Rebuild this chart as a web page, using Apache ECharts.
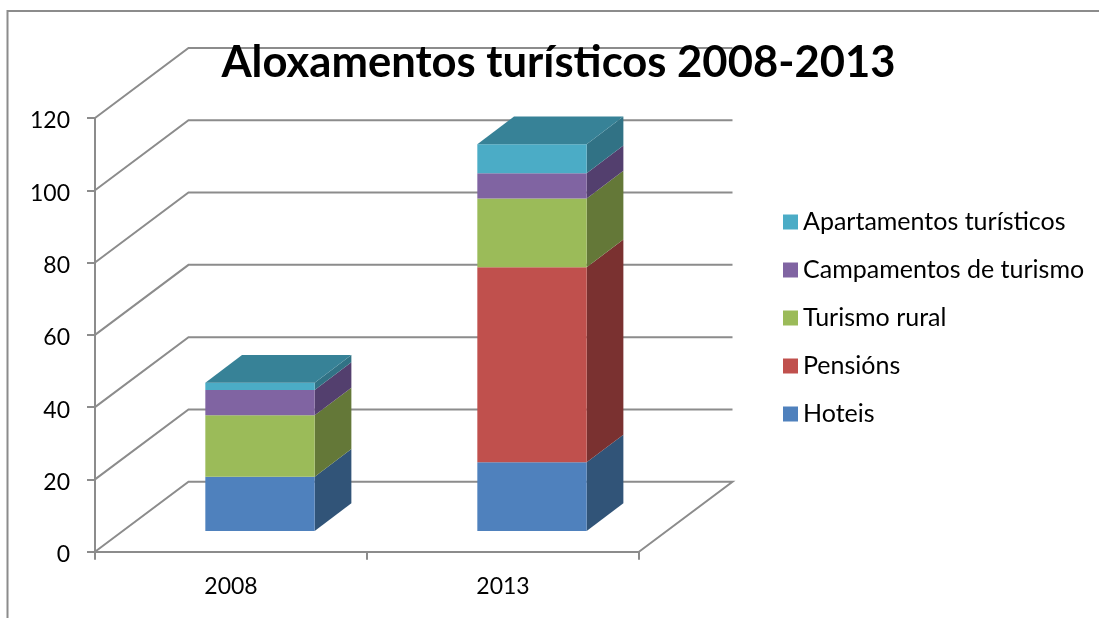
<!DOCTYPE html>
<html>
<head>
<meta charset="utf-8">
<style>html,body{margin:0;padding:0;background:#fff}#c{width:1099px;height:618px}</style>
<script src="https://cdn.jsdelivr.net/npm/echarts@6/dist/echarts.min.js"></script>
</head>
<body>
<div id="c"></div>
<script>
const titleText = 'Aloxamentos turísticos 2008-2013';
const categories = ['2008', '2013'];
const yTicks = [0, 20, 40, 60, 80, 100, 120];
const hoteis = [15, 19];
const pensions = [0, 54];
const rural = [17, 19];
const campamentos = [7, 7];
const apartamentos = [2, 8];
const seriesNames = ['Hoteis', 'Pensións', 'Turismo rural', 'Campamentos de turismo', 'Apartamentos turísticos'];
const seriesValues = [hoteis, pensions, rural, campamentos, apartamentos];
const frontColors = ['#4F81BD', '#C0504D', '#9BBB59', '#8064A2', '#4BACC6'];
const sideColors = ['#315478', '#7A3130', '#647838', '#533F6E', '#317285'];
const topColor = '#378297';
const gridColor = '#8C8C8C';
const FONT = 'Lato';

const WALL = { dx: 93.5, dy: -70 };
const BAR_OFFSET = { dx: 29, dy: -20.7 };
const BAR_DEPTH = { dx: 36.7, dy: -27.7 };
const BAR_RATIO = 0.402;

const chart = echarts.init(document.getElementById('c'), null, { renderer: 'canvas' });

function wallItem(params, api) {
  const v = api.value(0);
  const y = api.coord([0, v])[1];
  const cs = params.coordSys;
  const l = cs.x, r = cs.x + cs.width;
  const pts = [[l, y], [l + WALL.dx, y + WALL.dy], [r + WALL.dx, y + WALL.dy]];
  if (v === 0) pts.push([r, y]);
  return { type: 'polyline', shape: { points: pts }, style: { fill: null, stroke: gridColor, lineWidth: 2 }, silent: true };
}

function barItem(idx) {
  return function (params, api) {
    const cat = api.value(0);
    const base = api.value(1), top = api.value(2);
    const c0 = api.coord([cat, base]), c1 = api.coord([cat, top]);
    const w = api.size([1, 0])[0] * BAR_RATIO;
    const xl = c0[0] - w / 2 + BAR_OFFSET.dx, xr = xl + w;
    const yb = c0[1] + BAR_OFFSET.dy, yt = c1[1] + BAR_OFFSET.dy;
    const d = BAR_DEPTH;
    const children = [];
    if (top > base) {
      children.push({ type: 'polygon', shape: { points: [[xr, yb], [xr + d.dx, yb + d.dy], [xr + d.dx, yt + d.dy], [xr, yt]] }, style: { fill: sideColors[idx] } });
      children.push({ type: 'rect', shape: { x: xl, y: yt, width: w, height: yb - yt }, style: { fill: frontColors[idx] } });
    }
    if (idx === seriesValues.length - 1) {
      children.push({ type: 'polygon', shape: { points: [[xl, yt], [xl + d.dx, yt + d.dy], [xr + d.dx, yt + d.dy], [xr, yt]] }, style: { fill: topColor } });
    }
    return { type: 'group', children };
  };
}

const running = categories.map(() => 0);
const barSeries = seriesNames.map((name, i) => {
  const data = categories.map((_, c) => {
    const base = running[c];
    running[c] += seriesValues[i][c];
    return [c, base, running[c]];
  });
  return {
    name, type: 'custom', coordinateSystem: 'cartesian2d', clip: false, z: 3 + i,
    itemStyle: { color: frontColors[i] },
    encode: { x: 0, y: 2 },
    renderItem: barItem(i), data
  };
});

chart.setOption({
  animation: false,
  title: {
    text: titleText, left: 553.5, textAlign: 'center', top: 36,
    textStyle: { fontFamily: FONT, fontSize: 43.6, fontWeight: 'bold', color: '#000' }
  },
  grid: { left: 95, top: 118, width: 544, height: 433.7 },
  legend: {
    data: seriesNames.slice().reverse(), orient: 'vertical', left: 783, top: 208, padding: 0, selectedMode: false,
    icon: 'rect', itemWidth: 15, itemHeight: 15, itemGap: 20,
    textStyle: { fontFamily: FONT, fontSize: 25, lineHeight: 28, color: '#000' }
  },
  xAxis: {
    type: 'category', data: categories,
    axisLine: { lineStyle: { color: gridColor, width: 2 } },
    axisTick: { show: true, length: 8, alignWithLabel: false, lineStyle: { color: gridColor, width: 2 } },
    axisLabel: { fontFamily: FONT, fontSize: 23, color: '#000', margin: 23 },
    splitLine: { show: false }
  },
  yAxis: {
    type: 'value', min: 0, max: 120, interval: 20,
    axisLine: { show: true, lineStyle: { color: gridColor, width: 2 } },
    axisTick: { show: true, length: 8, lineStyle: { color: gridColor, width: 2 } },
    axisLabel: {
      color: '#000', margin: 25, formatter: '{a|{value}}',
      rich: { a: { fontFamily: FONT, fontSize: 23, color: '#000', padding: [6, 0, 0, 0] } }
    },
    splitLine: { show: false }
  },
  graphic: [{
    type: 'polyline', silent: true, z: 0,
    shape: { points: [[7.5, 618], [7.5, 11], [1099, 11]] },
    style: { fill: null, stroke: '#8C8C8C', lineWidth: 2 }
  }],
  series: [{
    name: 'walls', type: 'custom', coordinateSystem: 'cartesian2d', clip: false, z: 1, silent: true,
    encode: { y: 0 }, renderItem: wallItem, data: yTicks.map(v => [v])
  }].concat(barSeries)
});
</script>
</body>
</html>
